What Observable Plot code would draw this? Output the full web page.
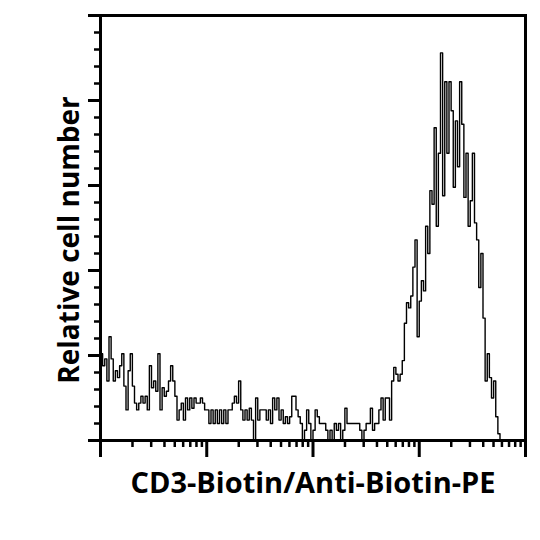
<!DOCTYPE html>
<html><head><meta charset="utf-8">
<script src="https://cdn.jsdelivr.net/npm/d3@7"></script>
<script src="https://cdn.jsdelivr.net/npm/@observablehq/plot@0.6"></script>
<style>body{margin:0;background:#fff;}</style>
</head><body><div id="chart"></div>
<script>
const xLabel = "CD3-Biotin/Anti-Biotin-PE";
const yLabel = "Relative cell number";
// event counts per channel (200 log-spaced channels over 4 decades)
const counts = [
  51,44,48,35,61,48,35,41,37,44,
  51,32,18,41,51,32,22,18,22,26,
  22,26,18,44,31,35,29,51,18,31,
  26,29,35,44,35,26,12,18,22,12,
  25,18,25,19,25,22,22,25,22,18,
  18,10,18,10,18,10,18,10,18,10,
  18,18,22,26,22,35,18,12,18,12,
  19,12,0,25,12,18,18,18,12,18,
  10,25,18,25,12,18,10,14,10,14,
  26,26,18,14,10,0,6,18,10,0,
  6,18,14,10,10,10,6,0,6,0,
  10,6,10,0,6,19,10,10,10,10,
  10,10,6,0,6,10,10,19,6,10,
  10,18,25,12,25,25,12,35,43,39,
  35,39,47,69,81,78,85,102,118,61,
  82,94,88,126,110,147,139,184,126,169,
  228,144,211,169,211,194,149,188,161,211,
  186,143,169,126,141,169,128,118,90,110,
  72,35,51,37,25,35,14,4,0,0,
  0,0,0,0,0,0,0,0,0,0
];
const xDecades = [1, 10, 100, 1000, 10000];
const xMinorDigits = [2, 3, 4, 5, 6, 7, 8, 9];
const yMajor = [0, 50, 100, 150, 200, 250];
const yMinor = [10,20,30,40,60,70,80,90,110,120,130,140,160,170,180,190,210,220,230,240];

const xMinor = xDecades.slice(0, -1).flatMap(d => xMinorDigits.map(k => d * k));
const n = counts.length;
const points = counts.map((c, i) => ({x: Math.pow(10, 4 * i / n), y: c}));
points.push({x: 10000, y: counts[n - 1]});

const font = "'Open Sans', 'DejaVu Sans', sans-serif";
const noText = () => "";

const chart = Plot.plot({
  width: 540, height: 540,
  marginLeft: 100, marginRight: 15, marginTop: 15, marginBottom: 100,
  style: {background: "#fff", fontFamily: font},
  x: {type: "log", domain: [1, 10000], axis: null},
  y: {domain: [0, 250], axis: null},
  marks: [
    Plot.line(points, {x: "x", y: "y", curve: "step-after", stroke: "#000", strokeWidth: 1.4}),
    Plot.axisX(xMinor, {anchor: "bottom", tickSize: 7, strokeWidth: 2.5, stroke: "#000", tickFormat: noText, label: null}),
    Plot.axisX(xDecades, {anchor: "bottom", tickSize: 17, strokeWidth: 3, stroke: "#000", tickFormat: noText, label: null}),
    Plot.axisY(yMinor, {anchor: "left", tickSize: 6, strokeWidth: 2.5, stroke: "#000", tickFormat: noText, label: null}),
    Plot.axisY(yMajor, {anchor: "left", tickSize: 12, strokeWidth: 3, stroke: "#000", tickFormat: noText, label: null}),
    Plot.frame({stroke: "#000", strokeWidth: 3}),
    Plot.text([xLabel], {text: d => d, frameAnchor: "bottom", textAnchor: "middle", dy: 43, fontSize: 29, fontWeight: 700, fill: "#000", lineAnchor: "middle"}),
    Plot.text([yLabel], {text: d => d, frameAnchor: "left", textAnchor: "middle", rotate: -90, dx: -30, dy: 12, fontSize: 28, fontWeight: 700, fill: "#000", lineAnchor: "middle"})
  ]
});
document.getElementById("chart").appendChild(chart);
</script>
</body></html>
